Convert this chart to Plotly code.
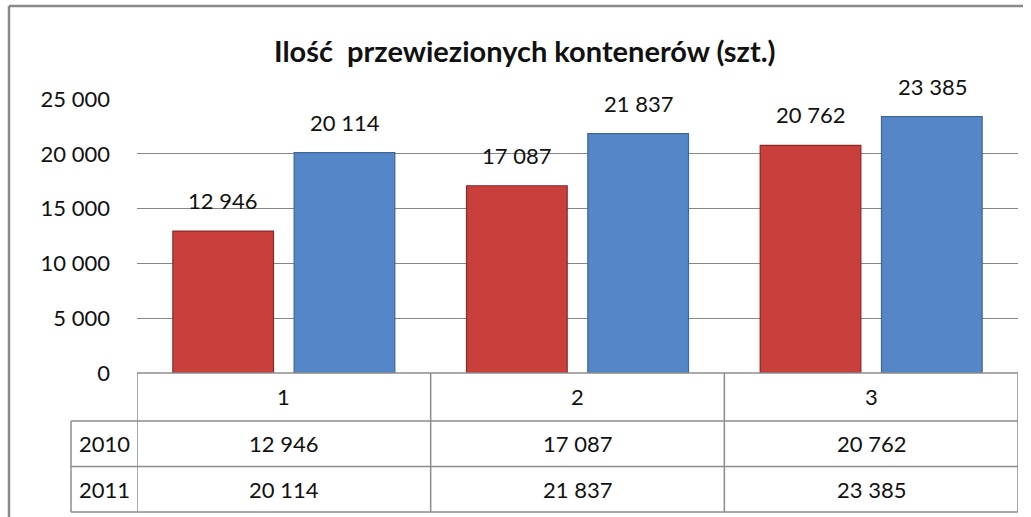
import plotly.graph_objects as go

# ---- data ----
categories = ["1", "2", "3"]
series_names = ["2010", "2011"]
values_2010 = [12946, 17087, 20762]
values_2011 = [20114, 21837, 23385]
y_ticks = [0, 5000, 10000, 15000, 20000, 25000]
title_text = "Ilość  przewiezionych kontenerów (szt.)"

# ---- layout geometry (pixels) ----
W, H = 1031, 517
L, R, T, B = 137, 1018, 99, 373


def fx(p):
    return (p - L) / (R - L)


def fy(p):
    return (B - p) / (B - T)


def fmt(v):
    return f"{v:,}".replace(",", " ")


FONT = "Lato"
GRID = "#878787"
TXT = "#111111"
red_fill, red_line = "#C93F3C", "#8A2826"
blue_fill, blue_line = "#5587C8", "#3C6598"

idx = list(range(len(categories)))
n = len(categories)

fig = go.Figure()
fig.add_trace(go.Bar(x=idx, y=values_2010, name=series_names[0],
                     marker=dict(color=red_fill, line=dict(color=red_line, width=1.2))))
fig.add_trace(go.Bar(x=idx, y=values_2011, name=series_names[1],
                     marker=dict(color=blue_fill, line=dict(color=blue_line, width=1.2))))

shapes = []
annotations = []

# data labels above bars
for vals, xs in ((values_2010, -61), (values_2011, 61)):
    for i, v in zip(idx, vals):
        annotations.append(dict(x=i, y=v, xref="x", yref="y", text=fmt(v), showarrow=False,
                                xshift=xs, yshift=15, xanchor="center", yanchor="bottom",
                                font=dict(family=FONT, size=22, color=TXT)))

# data table below plot
line = dict(color="#8C8C8C", width=1.5)
row_lines = [421, 466.5, 512]
shapes.append(dict(type="line", xref="paper", yref="paper", x0=0, x1=1, y0=fy(373), y1=fy(373), line=line))
for yy in row_lines:
    shapes.append(dict(type="line", xref="paper", yref="paper", x0=fx(71), x1=1, y0=fy(yy), y1=fy(yy), line=line))
for i in range(n + 1):
    shapes.append(dict(type="line", xref="x", yref="paper", x0=i - 0.5, x1=i - 0.5,
                       y0=fy(373), y1=fy(512), line=line))
shapes.append(dict(type="line", xref="paper", yref="paper", x0=fx(71), x1=fx(71),
                   y0=fy(421), y1=fy(512), line=line))

cell = dict(showarrow=False, xanchor="center", yanchor="middle",
            font=dict(family=FONT, size=22, color=TXT))

# header row labels
for i, c in zip(idx, categories):
    annotations.append(dict(x=i, y=fy(397), xref="x", yref="paper", text=c, **cell))
# value rows
for name, vals, yc in ((series_names[0], values_2010, 443.5), (series_names[1], values_2011, 489)):
    annotations.append(dict(x=fx(104), y=fy(yc), xref="paper", yref="paper", text=name, **cell))
    for i, v in zip(idx, vals):
        annotations.append(dict(x=i, y=fy(yc), xref="x", yref="paper", text=fmt(v), **cell))

# title
annotations.append(dict(x=fx(525), y=fy(50), xref="paper", yref="paper", text="<b>" + title_text + "</b>",
                        showarrow=False, xanchor="center", yanchor="middle",
                        font=dict(family=FONT, size=29, color=TXT)))

# outer chart border (top & left visible)
border = dict(color="#8A8A8A", width=2.5)
shapes.append(dict(type="line", xref="paper", yref="paper", x0=fx(9), x1=fx(1023), y0=fy(6), y1=fy(6), line=border))
shapes.append(dict(type="line", xref="paper", yref="paper", x0=fx(9), x1=fx(9), y0=fy(6), y1=fy(530), line=border))

fig.update_layout(
    width=W, height=H,
    margin=dict(l=L, r=W - R, t=T, b=H - B, pad=0),
    barmode="group", bargap=0.174, bargroupgap=0.17,
    showlegend=False,
    plot_bgcolor="white", paper_bgcolor="white",
    shapes=shapes, annotations=annotations,
    font=dict(family=FONT, size=22, color=TXT),
    xaxis=dict(range=[-0.5, n - 0.5], showticklabels=False, showgrid=False,
               zeroline=False, showline=False, ticks=""),
    yaxis=dict(range=[0, 25000], tickvals=y_ticks, ticktext=[fmt(v) for v in y_ticks],
               showgrid=True, gridcolor=GRID, gridwidth=1, zeroline=False, showline=False,
               ticks="", ticklabelstandoff=26, tickfont=dict(family=FONT, size=22, color=TXT)),
)

fig.write_html("out.html", config={"displayModeBar": False},
               post_script="document.body.style.margin='0';document.body.style.overflow='hidden';")
